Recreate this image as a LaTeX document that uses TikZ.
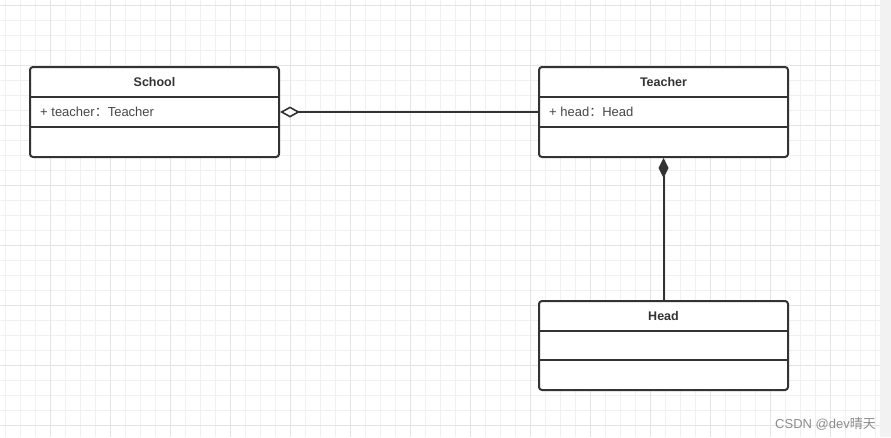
\documentclass[tikz,border=0pt]{standalone}
\usepackage{fontspec}
\setmainfont{Liberation Sans}
\newfontfamily\cjk{Noto Sans CJK SC}
\usetikzlibrary{arrows.meta}
\definecolor{gridminor}{HTML}{F0F0F0}
\definecolor{gridmajor}{HTML}{E4E4E4}
\definecolor{edgegray}{HTML}{F2F2F2}
\definecolor{ink}{HTML}{333333}
\tikzset{
  classbox/.style={draw=ink, line width=2pt, rounded corners=3pt, minimum width=249pt, minimum height=90pt, inner sep=0pt},
  divider/.style={draw=ink, line width=2pt},
  titletext/.style={font=\bfseries\fontsize{12.5}{14}\selectfont, text=ink, inner sep=0pt},
  attrtext/.style={font=\fontsize{13}{15}\selectfont, text=ink!90, anchor=west, inner sep=0pt},
  link/.style={draw=ink, line width=2pt},
}
\begin{document}
\begin{tikzpicture}[x=1pt,y=-1pt]
\useasboundingbox (0,0) rectangle (891,437);
\fill[white] (0,0) rectangle (880,437);
\fill[edgegray] (880,0) rectangle (891,437);
% grid
\foreach \x in {5,20,...,875} \draw[gridminor, line width=1pt] (\x,0) -- (\x,437);
\foreach \y in {5,20,...,435} \draw[gridminor, line width=1pt] (0,\y) -- (880,\y);
\foreach \x in {50,110,...,870} \draw[gridmajor, line width=1pt] (\x,0) -- (\x,437);
\foreach \y in {5,65,...,435} \draw[gridmajor, line width=1pt] (0,\y) -- (880,\y);

% School
\node[classbox, fill=white] (school) at (154.5,112) {};
\draw[divider] (school.west |- 0,97) -- (school.east |- 0,97);
\draw[divider] (school.west |- 0,127) -- (school.east |- 0,127);
\node[titletext] (schoolT) at (154.5,82) {School};
\node[attrtext] (schoolA) at (40,112) {+ teacher{\cjk ：}Teacher};

% Teacher
\node[classbox, fill=white] (teacher) at (663.5,112) {};
\draw[divider] (teacher.west |- 0,97) -- (teacher.east |- 0,97);
\draw[divider] (teacher.west |- 0,127) -- (teacher.east |- 0,127);
\node[titletext] (teacherT) at (663.5,82) {Teacher};
\node[attrtext] (teacherA) at (549,112) {+ head{\cjk ：}Head};

% Head
\node[classbox, fill=white, minimum height=89pt] (head) at (663.5,345.5) {};
\draw[divider] (head.west |- 0,331) -- (head.east |- 0,331);
\draw[divider] (head.west |- 0,360) -- (head.east |- 0,360);
\node[titletext] (headT) at (663.5,316) {Head};

% connectors
\draw[link, {Diamond[open, length=20pt, width=11pt, line width=1.6pt, fill=white]}-] (school.east) -- (teacher.west);
\draw[link, {Diamond[length=20pt, width=10pt, line width=1pt]}-] (teacher.south) -- (head.north);

% watermark
\node[anchor=base east, inner sep=0pt, text=black!45, font=\fontsize{13}{15}\selectfont] (wm) at (876,428) {CSDN @dev{\cjk 晴天}};
\end{tikzpicture}
\end{document}
